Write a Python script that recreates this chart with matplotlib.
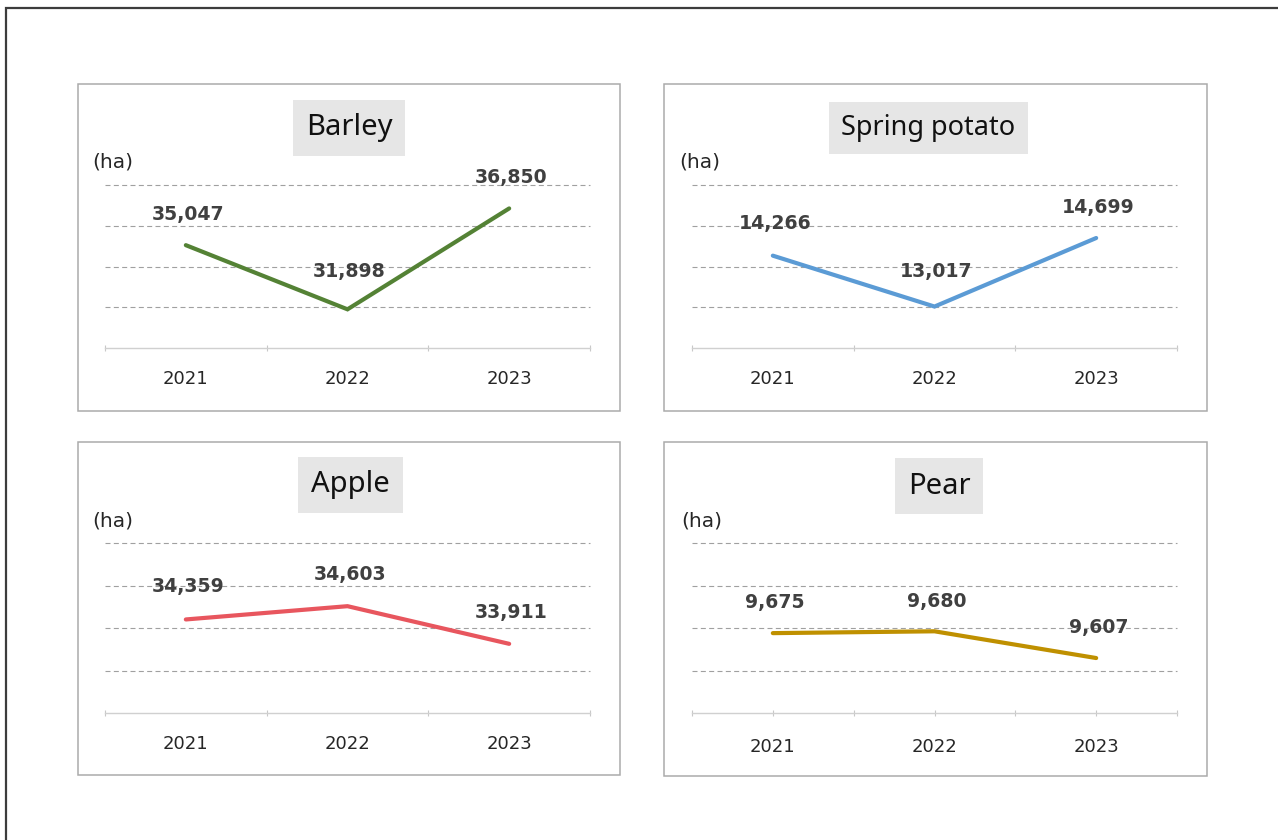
import matplotlib
matplotlib.use("Agg")
import matplotlib.pyplot as plt
import matplotlib.patches as patches
import numpy as np

# ---- data ----
years = ["2021", "2022", "2023"]
titles = ["Barley", "Spring potato", "Apple", "Pear"]
barley = [35047, 31898, 36850]
spring_potato = [14266, 13017, 14699]
apple = [34359, 34603, 33911]
pear = [9675, 9680, 9607]
unit_label = "(ha)"

W, H = 1278, 840
fig = plt.figure(figsize=(W / 100, H / 100), dpi=100)
fig.patch.set_facecolor("white")
plt.rcParams["font.family"] = ["DejaVu Sans"]


def fx(x):
    return x / W


def fy(y):
    return 1 - y / H


# outer frame (left/top visible, continues past the image)
fig.patches.append(patches.Rectangle((fx(5.5), -0.2), 2.0, fy(8.3) + 0.2, fill=False,
                                     edgecolor="#3c3c3c", linewidth=1.6,
                                     transform=fig.transFigure, clip_on=False))

panels = [
    dict(title=titles[0], vals=barley, color="#548235", box=(78, 84, 620, 411),
         plot=(105, 185, 590, 348), ylim=(30000, 38000), tx=349, ty=128,
         hx=92, hy=162, offs=[31, 38, 31], centerticks=False, tsize=21),
    dict(title=titles[1], vals=spring_potato, color="#5B9BD5", box=(664, 84, 1207, 411),
         plot=(692, 185, 1177, 348), ylim=(12000, 16000), tx=928.5, ty=128,
         hx=679, hy=162, offs=[32, 35, 31], centerticks=False, tsize=19.5),
    dict(title=titles[2], vals=apple, color="#E8565E", box=(78, 442, 620, 775),
         plot=(105, 543, 590, 713), ylim=(32640, 35764), tx=350.5, ty=485,
         hx=92, hy=521, offs=[33, 32, 31], centerticks=False, tsize=21),
    dict(title=titles[3], vals=pear, color="#BF9000", box=(664, 442, 1207, 776),
         plot=(692, 543, 1177, 713), ylim=(9457, 9921), tx=939, ty=486,
         hx=681, hy=521, offs=[31, 30, 31], centerticks=True, tsize=21),
]

for p in panels:
    x0, y0, x1, y1 = p["box"]
    fig.patches.append(patches.Rectangle((fx(x0), fy(y1)), fx(x1 - x0), (y1 - y0) / H,
                                         fill=False, edgecolor="#ABABAB", linewidth=1.1,
                                         transform=fig.transFigure))
    px0, py0, px1, py1 = p["plot"]
    ax = fig.add_axes([fx(px0), fy(py1), fx(px1 - px0), (py1 - py0) / H])
    ax.set_facecolor("none")
    lo, hi = p["ylim"]
    ax.set_ylim(lo, hi)
    ax.set_xlim(-0.5, len(years) - 0.5)
    xs = np.arange(len(years))
    ax.plot(xs, p["vals"], color=p["color"], linewidth=3.0, solid_capstyle="round",
            solid_joinstyle="miter", zorder=3)
    for i, v in enumerate(p["vals"]):
        ax.annotate(f"{v:,}", (xs[i], v), xytext=(1.5, p["offs"][i] * 0.72),
                    textcoords="offset points", ha="center", va="center",
                    fontsize=13.6, fontweight="bold", color="#404040", zorder=4)
    # gridlines
    gl_vals = np.linspace(lo, hi, 5)[1:]
    ax.set_yticks(gl_vals)
    ax.tick_params(axis="y", length=0, labelleft=False)
    ax.yaxis.grid(True, color="#A0A0A0", linewidth=0.8, linestyle=(0, (4.5, 3.0)))
    for g in ax.get_ygridlines():
        g.set_clip_on(False)
    ax.set_axisbelow(True)
    for s in ["top", "left", "right"]:
        ax.spines[s].set_visible(False)
    ax.spines["bottom"].set_color("#D0D0D0")
    ax.spines["bottom"].set_linewidth(1.0)
    ax.set_xticks(xs)
    ax.set_xticklabels(years)
    ax.set_xticks(np.arange(-0.5, len(years)), minor=True)
    ax.tick_params(axis="x", which="minor", length=5, direction="inout",
                   color="#C8C8C8", width=0.8)
    ax.tick_params(axis="x", which="major", length=5 if p["centerticks"] else 0,
                   direction="inout", color="#C8C8C8", width=0.8,
                   pad=15.5, labelsize=13, labelcolor="#262626")
    # title
    fig.text(fx(p["tx"]), fy(p["ty"]), p["title"], ha="center", va="center",
             fontsize=p["tsize"], family=["Noto Sans", "DejaVu Sans"], color="#111111",
             bbox=dict(boxstyle="square,pad=0.45", facecolor="#E6E6E6", edgecolor="none"))
    fig.text(fx(p["hx"]), fy(p["hy"]), unit_label, ha="left", va="center",
             fontsize=14.5, color="#262626")

fig.savefig("out.png", dpi=100, facecolor="white")
